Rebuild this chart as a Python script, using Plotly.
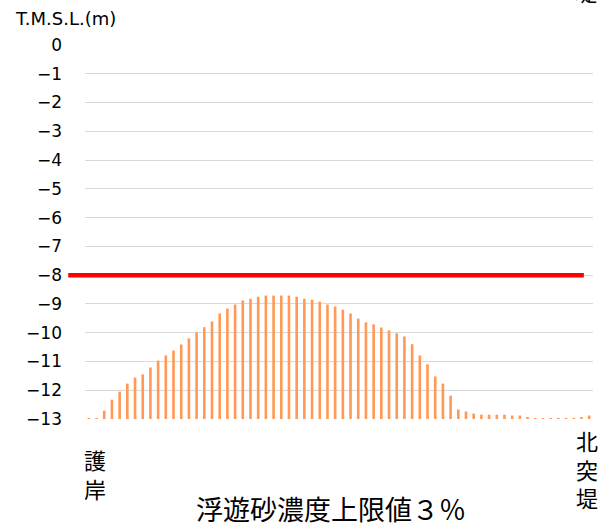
import plotly.graph_objects as go

# Bed level profile (T.M.S.L., m) from 護岸 to 北突堤
levels = [
    -12.97, -12.97, -12.71, -12.33, -12.05, -11.77, -11.56, -11.45, -11.21, -10.97,
    -10.79, -10.62, -10.41, -10.20, -9.99, -9.81, -9.61, -9.33, -9.16, -9.02,
    -8.88, -8.82, -8.75, -8.71, -8.71, -8.71, -8.71, -8.75, -8.82, -8.85,
    -8.92, -9.02, -9.09, -9.20, -9.33, -9.51, -9.64, -9.71, -9.82, -9.92,
    -10.02, -10.13, -10.40, -10.79, -11.10, -11.52, -11.77, -12.19, -12.67, -12.74,
    -12.81, -12.85, -12.85, -12.85, -12.85, -12.88, -12.88, -12.95, -12.99, -12.99,
    -12.99, -12.99, -12.99, -12.99, -12.95, -12.88,
]
stations = list(range(1, len(levels) + 1))
base_level = -13
limit_level = -8
y_ticks = list(range(0, -14, -1))
end_labels = ["護岸", "北突堤"]
y_title = "T.M.S.L.(m)"
chart_title = "浮遊砂濃度上限値３％"

heights = [v - base_level for v in levels]

fig = go.Figure()
fig.add_trace(go.Bar(
    x=stations, y=heights, base=base_level,
    marker=dict(color="#FF9955", line=dict(width=0)),
    showlegend=False, hoverinfo="skip",
))

fig.add_shape(type="line", xref="paper", yref="y",
              x0=-0.033, x1=0.982, y0=limit_level, y1=limit_level,
              line=dict(color="#FF0000", width=4.5))

fig.update_layout(
    width=607, height=525,
    margin=dict(l=85, r=14, t=45, b=106),
    paper_bgcolor="white", plot_bgcolor="white",
    bargap=0.66,
    font=dict(family="DejaVu Sans", color="#000000"),
    xaxis=dict(type="linear", range=[0.5, len(levels) + 0.5],
               showticklabels=False, showgrid=False, zeroline=False, showline=False),
    yaxis=dict(range=[base_level, 0], tickvals=y_ticks,
               tickfont=dict(size=17, family="DejaVu Sans"),
               showgrid=True, gridcolor="#D9D9D9", gridwidth=1,
               zeroline=False, showline=False, ticks="", ticklabelstandoff=22),
)

cjk = "Noto Sans CJK JP"
fig.add_annotation(x=stations[0], y=0, xref="x", yref="paper",
                   text="<br>".join(end_labels[0]), showarrow=False,
                   xshift=6, yshift=-22, yanchor="top", xanchor="center",
                   font=dict(size=22, family=cjk), align="center")
fig.add_annotation(x=stations[-1], y=0, xref="x", yref="paper",
                   text="<br>".join(end_labels[1]), showarrow=False,
                   xshift=-2, yshift=-3, yanchor="top", xanchor="center",
                   font=dict(size=22, family=cjk), align="center")
fig.add_annotation(x=0.5, y=0, xref="paper", yref="paper",
                   text=chart_title, showarrow=False,
                   yshift=-68, xshift=-8, yanchor="top", xanchor="center",
                   font=dict(size=27, family=cjk))
fig.add_annotation(x=-72 / 508, y=1, xref="paper", yref="paper",
                   text=y_title, showarrow=False, xanchor="left", yanchor="bottom",
                   yshift=14, font=dict(size=18, family="DejaVu Sans"))
fig.add_annotation(x=(586 - 85) / 508, y=1, xref="paper", yref="paper",
                   text="堤", showarrow=False, xanchor="center", yanchor="bottom",
                   yshift=36, font=dict(size=22, family=cjk))

fig.write_html("out.html", config={"displayModeBar": False},
               post_script="document.body.style.margin='0';document.body.style.padding='0';")
